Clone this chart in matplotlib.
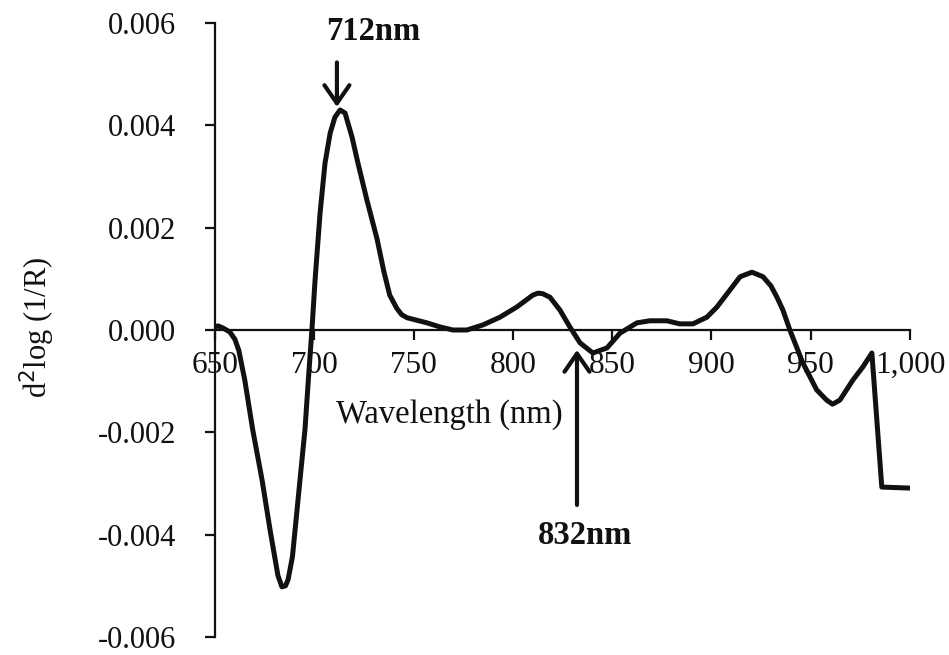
import matplotlib
matplotlib.use("Agg")
import matplotlib.pyplot as plt
from matplotlib.ticker import FuncFormatter, FixedLocator

plt.rcParams['font.family'] = ['Liberation Serif', 'DejaVu Serif']

wavelength = [650, 651.5, 654, 657.5, 660, 662, 665, 669, 673.7, 677.7, 681.7,
              683.7, 685.5, 686.8, 689, 692.8, 695.3, 697, 698.8, 700.4, 702.9,
              705.4, 708, 710.4, 713, 715.5, 719, 722, 726.5, 731.6, 735, 738,
              741.6, 744, 746.7, 751.7, 756.7, 763.3, 769.8, 776.9, 785, 793.5, 802,
              810, 812.6, 815, 818.7, 823.7, 828.7, 833.8, 840.3, 847.4, 854,
              862.5, 869, 877.6, 884, 890.7, 897.7, 902.8, 909.3, 914.4, 920.4,
              926, 930, 933, 936, 939.5, 946, 953, 958, 961, 964.7, 971.2, 976.3,
              980.8, 985.8, 1000]
d2log = [0.00006, 0.00008, 0.00004, -0.00004, -0.00018, -0.00040, -0.00098, -0.00195,
         -0.00293, -0.00390, -0.00480, -0.00502, -0.00500, -0.00488, -0.00443,
         -0.00293, -0.00195, -0.00098, 0.0, 0.00098, 0.00228, 0.00326, 0.00385,
         0.00416, 0.00430, 0.00424, 0.00377, 0.00326, 0.00254, 0.00178, 0.00115,
         0.00068, 0.00042, 0.00030, 0.00024, 0.00019, 0.00014, 0.00006, 0.0, 0.0,
         0.00010, 0.00025, 0.00045, 0.00068, 0.00072, 0.00071, 0.00064, 0.00039,
         0.00006, -0.00025, -0.00045, -0.00035, -0.00006, 0.00014, 0.00018, 0.00018,
         0.00012, 0.00012, 0.00025, 0.00045, 0.00078, 0.00104, 0.00113, 0.00104,
         0.00086, 0.00064, 0.00039, 0.0, -0.00064, -0.00117, -0.00137, -0.00145,
         -0.00137, -0.00098, -0.00072, -0.00045, -0.00307, -0.00309]

x_ticks = [650, 700, 750, 800, 850, 900, 950, 1000]
y_ticks = [-0.006, -0.004, -0.002, 0.0, 0.002, 0.004, 0.006]

peak1_label = "712nm"
peak2_label = "832nm"

fig = plt.figure(figsize=(9.49, 6.55), dpi=100)
ax = fig.add_axes([215/949, 18/655, 695/949, 614/655])
ax.set_facecolor('white')

ax.plot(wavelength, d2log, color='#111111', lw=3.6, solid_joinstyle='round',
        solid_capstyle='butt', zorder=3)

ax.set_xlim(650, 1000)
ax.set_ylim(-0.006, 0.006)
ax.spines['top'].set_visible(False)
ax.spines['right'].set_visible(False)
ax.spines['bottom'].set_position(('data', 0))
for s in ('left', 'bottom'):
    ax.spines[s].set_linewidth(1.6)
    ax.spines[s].set_color('#111111')

ax.xaxis.set_major_locator(FixedLocator(x_ticks))
ax.yaxis.set_major_locator(FixedLocator(y_ticks))
ax.xaxis.set_major_formatter(FuncFormatter(lambda v, p: f"{v:,.0f}"))
ax.yaxis.set_major_formatter(FuncFormatter(lambda v, p: f"{v:.3f}"))
ax.tick_params(axis='x', direction='out', length=7, width=1.6, pad=8,
               labelsize=22.5, colors='#111111')
ax.tick_params(axis='y', direction='out', length=7, width=1.6, pad=21,
               labelsize=22, colors='#111111')
for lab in ax.get_xticklabels():
    lab.set_zorder(1)

ax.text(768, -0.00166, "Wavelength (nm)", fontsize=23.5, ha='center', va='center',
        color='#111111')
fig.text(37/949, 1 - 327/655, "d$^{2}$log (1/R)", rotation=90, fontsize=22,
         ha='center', va='center', color='#111111')

arrow_props = dict(arrowstyle='->,head_length=0.65,head_width=0.45',
                   mutation_scale=20, lw=3, color='#111111', shrinkA=0, shrinkB=0)
ax.annotate("", xy=(711.4, 0.00436), xytext=(711.4, 0.00523),
            arrowprops=arrow_props, annotation_clip=False)
ax.text(729.6, 0.00584, peak1_label, fontsize=23.5, fontweight='bold', ha='center',
        va='center', color='#111111')

ax.annotate("", xy=(832.3, -0.00039), xytext=(832.3, -0.00342),
            arrowprops=arrow_props, annotation_clip=False, zorder=4)
ax.text(836.3, -0.00402, peak2_label, fontsize=23.5, fontweight='bold', ha='center',
        va='center', color='#111111')

fig.savefig("out.png", dpi=100, facecolor='white')
